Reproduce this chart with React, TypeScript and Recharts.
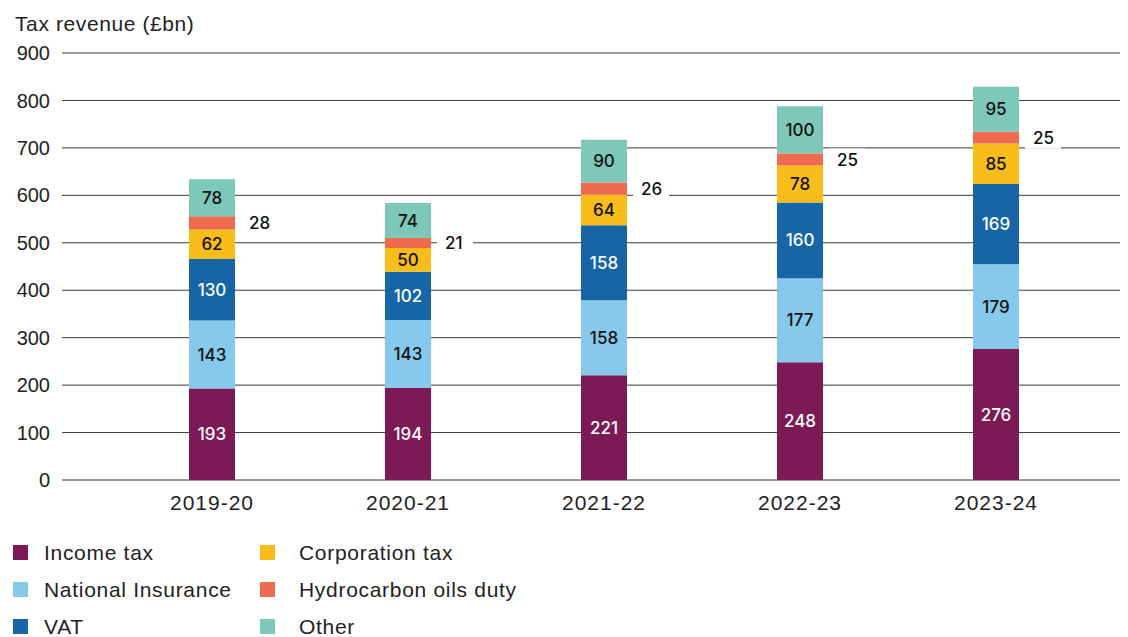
import React from "react";
import { BarChart, Bar, XAxis, YAxis, CartesianGrid, LabelList } from "recharts";

const years = ["2019-20", "2020-21", "2021-22", "2022-23", "2023-24"];
const incomeTax = [193, 194, 221, 248, 276];
const nationalInsurance = [143, 143, 158, 177, 179];
const vat = [130, 102, 158, 160, 169];
const corporationTax = [62, 50, 64, 78, 85];
const hydrocarbon = [28, 21, 26, 25, 25];
const other = [78, 74, 90, 100, 95];
const yTicks = [0, 100, 200, 300, 400, 500, 600, 700, 800, 900];

const series = [
  { key: "income", name: "Income tax", values: incomeTax, color: "#7C1A55", label: "#ffffff" },
  { key: "ni", name: "National Insurance", values: nationalInsurance, color: "#86C9EA", label: "#111111" },
  { key: "vat", name: "VAT", values: vat, color: "#1565A7", label: "#ffffff" },
  { key: "corp", name: "Corporation tax", values: corporationTax, color: "#F8BD1B", label: "#111111" },
  { key: "hydro", name: "Hydrocarbon oils duty", values: hydrocarbon, color: "#EE6B50", label: "#111111" },
  { key: "other", name: "Other", values: other, color: "#7EC8B9", label: "#111111" },
];

const data = years.map((y, i) => {
  const row: any = { year: y };
  series.forEach((s) => (row[s.key] = s.values[i]));
  return row;
});

const FONT = "'Liberation Sans', Arial, sans-serif";
const LABEL_FONT = "Inter, 'Liberation Sans', sans-serif";

const HydroLabel = (props: any) => {
  const { x, y, width, height, value } = props;
  const cy = y + height / 2;
  const left = x + width + 6;
  return (
    <g>
      <rect x={left} y={cy - 11} width={36} height={22} fill="#ffffff" />
      <text x={left + 8} y={cy} dy="0.36em" fontSize={17} fontWeight={500} fill="#111" fontFamily={LABEL_FONT}>
        {value}
      </text>
    </g>
  );
};

const legendCols = [
  [series[0], series[1], series[2]],
  [series[3], series[4], series[5]],
];

export default function App() {
  return (
    <div style={{ position: "absolute", left: 0, top: 0, width: 1128, height: 637, background: "#fff", fontFamily: FONT, overflow: "hidden" }}>
      <div style={{ position: "absolute", left: 15, top: 11, fontSize: 21, color: "#222", lineHeight: "26px", letterSpacing: 0.6 }}>
        Tax revenue (£bn)
      </div>
      <div style={{ position: "absolute", left: 0, top: 0 }}>
        <BarChart width={1128} height={520} data={data} margin={{ top: 53, right: 8, left: 0, bottom: 0 }}>
          <CartesianGrid vertical={false} stroke="#3a3a3a" strokeWidth={1} />
          <XAxis
            dataKey="year"
            axisLine={false}
            tickLine={false}
            tickSize={0}
            tickMargin={15}
            height={40}
            padding={{ left: 52, right: 26 }}
            tick={{ fontSize: 21, fill: "#222", fontFamily: FONT, letterSpacing: 1 }}
          />
          <YAxis
            domain={[0, 900]}
            ticks={yTicks}
            axisLine={false}
            tickLine={false}
            tickSize={0}
            tickMargin={12}
            width={62}
            tick={{ fontSize: 20, fill: "#222", fontFamily: FONT }}
          />
          {series.map((s) => (
            <Bar key={s.key} dataKey={s.key} name={s.name} stackId="a" fill={s.color} barSize={46} isAnimationActive={false}>
              {s.key === "hydro" ? (
                <LabelList dataKey={s.key} content={<HydroLabel />} />
              ) : (
                <LabelList
                  dataKey={s.key}
                  position="center"
                  fill={s.label}
                  fontSize={17}
                  fontWeight={500}
                  fontFamily={LABEL_FONT}
                />
              )}
            </Bar>
          ))}
        </BarChart>
      </div>
      {legendCols.map((col, ci) =>
        col.map((s, ri) => (
          <div
            key={s.key}
            style={{
              position: "absolute",
              left: ci === 0 ? 13 : 260,
              top: 542 + ri * 37,
              display: "flex",
              alignItems: "center",
              height: 21,
            }}
          >
            <div style={{ width: 15, height: 15, background: s.color, marginRight: ci === 0 ? 16 : 24 }} />
            <span style={{ fontSize: 21, color: "#222", lineHeight: "21px", letterSpacing: 0.7 }}>{s.name}</span>
          </div>
        ))
      )}
    </div>
  );
}
